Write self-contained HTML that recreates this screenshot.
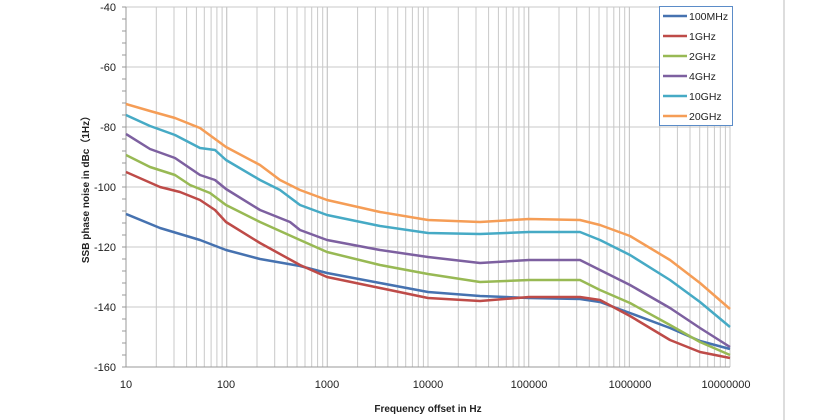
<!DOCTYPE html>
<html><head><meta charset="utf-8"><style>body{margin:0;background:#fff}svg{display:block}text{font-family:"Liberation Sans",sans-serif;fill:#222}</style></head><body>
<svg width="840" height="420" viewBox="0 0 840 420" xmlns="http://www.w3.org/2000/svg">
<line x1="784" y1="0" x2="784" y2="420" stroke="#bbb"/>
<g id="grid" stroke="#c8c8c8" stroke-width="1"></g>
<g id="ticks" stroke="#999"></g>
<line x1="126" y1="7" x2="126" y2="367" stroke="#999"/>
<line x1="126" y1="367" x2="730" y2="367" stroke="#999"/>
<g font-size="11" text-anchor="end">
<text x="116" y="11">-40</text><text x="116" y="71">-60</text><text x="116" y="131">-80</text><text x="116" y="191">-100</text><text x="116" y="251">-120</text><text x="116" y="311">-140</text><text x="116" y="371">-160</text>
</g>
<g font-size="11" text-anchor="middle">
<text x="126" y="388">10</text><text x="226" y="388">100</text><text x="327" y="388">1000</text><text x="428" y="388">10000</text><text x="529" y="388">100000</text><text x="630" y="388">1000000</text><text x="726" y="388">10000000</text>
</g>
<text x="428" y="412" font-size="10" font-weight="bold" text-anchor="middle">Frequency offset in Hz</text>
<text transform="translate(89,187) rotate(-90)" font-size="10" font-weight="bold" text-anchor="middle">SSB phase noise in dBc（1Hz）</text>
<g fill="none" stroke-width="2.5" stroke-linejoin="round">
<polyline stroke="#4672b0" points="126,214 160,228 180,234 200,240 226,250 260,259 300,266 327,273 380,283 428,292 480,296 529,298 580,299 600,302 630,313 670,328 700,341 730,349"/>
<polyline stroke="#be4b48" points="126,172 160,187 180,192 200,200 215,210 226,222 260,243 300,265 327,277 380,288 428,298 480,301 529,297 580,297 600,300 630,316 670,340 700,352 730,358"/>
<polyline stroke="#98b954" points="126,155 150,167 175,175 190,185 210,193 226,205 260,222 300,240 327,252 380,265 428,274 480,282 529,280 580,280 600,290 630,303 670,325 700,342 730,355"/>
<polyline stroke="#7d60a0" points="126,134 150,149 175,158 200,175 215,180 226,189 260,210 290,222 300,230 327,240 380,250 428,257 480,263 529,260 580,260 600,270 630,285 670,308 700,328 730,347"/>
<polyline stroke="#46aac5" points="126,115 150,126 175,135 200,148 215,150 226,160 260,180 280,190 300,205 327,215 380,226 428,233 480,234 529,232 580,232 600,240 630,255 670,280 700,302 730,327"/>
<polyline stroke="#f59d56" points="126,104 150,111 175,118 200,128 226,147 260,165 280,180 300,190 327,200 380,212 428,220 480,222 529,219 580,220 600,225 630,236 670,260 700,283 730,309"/>
</g>
<rect x="659.5" y="6.5" width="73" height="119" fill="#fff" stroke="#5b8cc8"/>
<g stroke-width="2.5">
<line x1="663" y1="16" x2="687" y2="16" stroke="#4672b0"/>
<line x1="663" y1="36" x2="687" y2="36" stroke="#be4b48"/>
<line x1="663" y1="56" x2="687" y2="56" stroke="#98b954"/>
<line x1="663" y1="76" x2="687" y2="76" stroke="#7d60a0"/>
<line x1="663" y1="96" x2="687" y2="96" stroke="#46aac5"/>
<line x1="663" y1="116" x2="687" y2="116" stroke="#f59d56"/>
</g>
<g font-size="10.5">
<text x="689" y="20">100MHz</text><text x="689" y="40">1GHz</text><text x="689" y="60">2GHz</text><text x="689" y="80">4GHz</text><text x="689" y="100">10GHz</text><text x="689" y="120">20GHz</text>
</g>
<script>
(function(){var ns="http://www.w3.org/2000/svg",g=document.getElementById("grid"),t=document.getElementById("ticks");
function L(p,a,b,c,d){var l=document.createElementNS(ns,"line");l.setAttribute("x1",a);l.setAttribute("y1",b);l.setAttribute("x2",c);l.setAttribute("y2",d);p.appendChild(l);}
for(var d=0;d<6;d++)for(var k=1;k<=10;k++){var x=126+100.67*(d+Math.log10(k));if(x>126.5)L(g,x.toFixed(1),7,x.toFixed(1),367);}
for(var v=-60;v>=-140;v-=20){var y=7+(-40-v)*3;L(g,126,y,730,y);}
L(g,126,7,730,7);
for(var v=-40;v>=-160;v-=4){var y=7+(-40-v)*3;L(t,122,y,126,y);}
})();
</script>
</svg>
</body></html>
